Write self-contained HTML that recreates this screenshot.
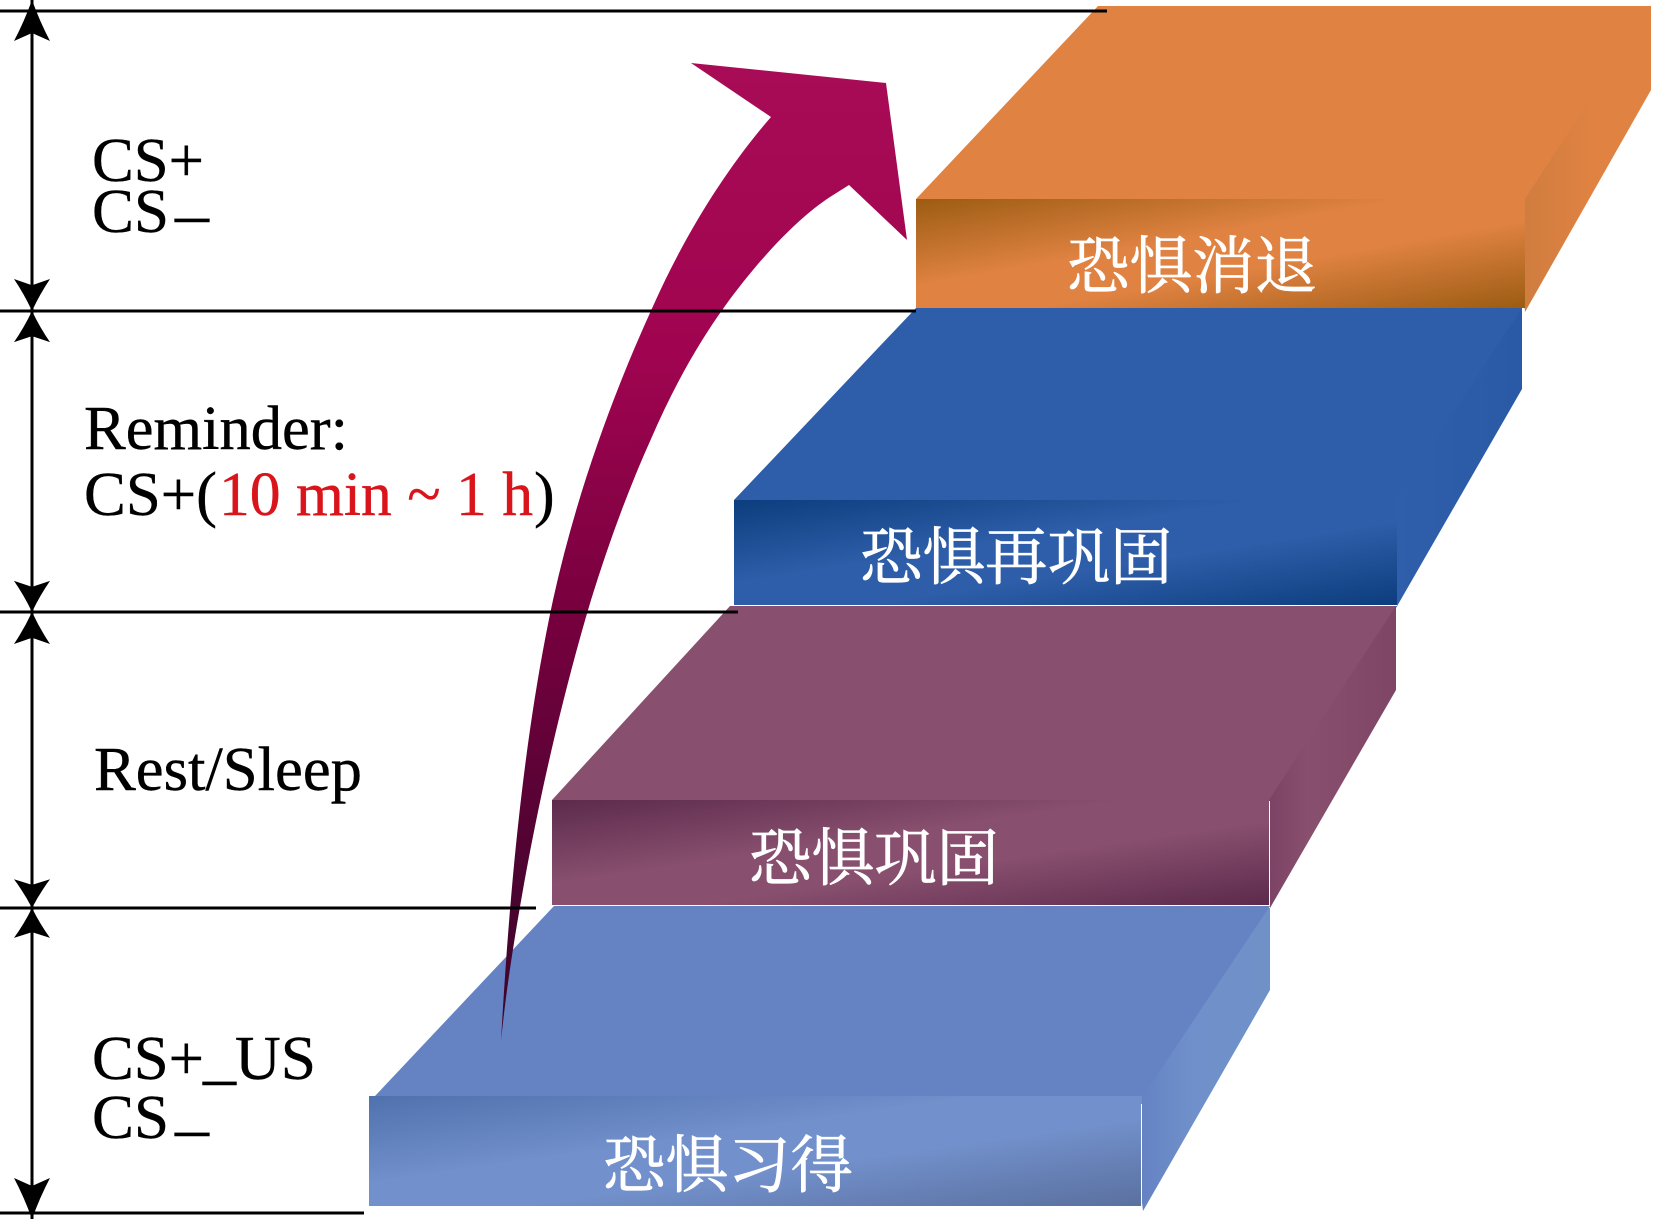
<!DOCTYPE html>
<html><head><meta charset="utf-8"><style>html,body{margin:0;padding:0;background:#fff}svg{display:block}</style></head><body>
<svg width="1654" height="1219" viewBox="0 0 1654 1219" xmlns="http://www.w3.org/2000/svg">
<defs>
<linearGradient id="arr" gradientUnits="userSpaceOnUse" x1="0" y1="60" x2="0" y2="1041"><stop offset="0" stop-color="#a90c56"/><stop offset=".3" stop-color="#a00450"/><stop offset=".56" stop-color="#78003f"/><stop offset=".85" stop-color="#4a0430"/><stop offset="1" stop-color="#3f0428"/></linearGradient>
<linearGradient id="so" gradientUnits="userSpaceOnUse" x1="1525" y1="0" x2="1590" y2="0"><stop offset="0" stop-color="#d07d40"/><stop offset="1" stop-color="#df8242"/></linearGradient>
<linearGradient id="sb" gradientUnits="userSpaceOnUse" x1="1396" y1="0" x2="1522" y2="0"><stop offset="0" stop-color="#2f5fab"/><stop offset="1" stop-color="#2a5aa6"/></linearGradient>
<linearGradient id="sp" gradientUnits="userSpaceOnUse" x1="1270" y1="0" x2="1396" y2="0"><stop offset="0" stop-color="#7d4365"/><stop offset=".3" stop-color="#884f6e"/><stop offset="1" stop-color="#7f4565"/></linearGradient>
<linearGradient id="sl" gradientUnits="userSpaceOnUse" x1="1143" y1="0" x2="1270" y2="0"><stop offset="0" stop-color="#6583c3"/><stop offset=".4" stop-color="#7090cb"/><stop offset="1" stop-color="#7090c8"/></linearGradient>
<path id="ah" d="M0,0 Q8,22 18,41 L0,33 L-18,41 Q-8,22 0,0 Z"/>
</defs>
<style>
.o{fill:#df8242}.b{fill:#2e5ea9}.p{fill:#884f6e}.l{fill:#6583c3}
.e{font-family:"Liberation Serif",serif;font-size:62px;fill:#000;stroke:#000;stroke-width:.4}
.r{font-family:"Liberation Serif",serif;font-size:62px;fill:#d9141b;stroke:#d9141b;stroke-width:.4}
.c{font-family:"Liberation Serif","Noto Serif CJK SC",serif;font-size:62.5px;fill:#fff;stroke:#fff;stroke-width:.7}
</style>
<!-- Light-blue block -->
<polygon fill="url(#sl)" points="1130,1100 1255,908 1270,908 1270,990 1143,1211"/>
<polygon class="l" points="375,1096 554,906 1270,906 1143,1096"/>
<foreignObject x="369" y="1096" width="773" height="110"><div xmlns="http://www.w3.org/1999/xhtml" style="width:773px;height:110px;background:linear-gradient(to bottom right,#4f71ad 0,#7290cb 40%,#7290cb 60%,#5a709f 100%)"></div></foreignObject>
<rect x="1141" y="1104" width="1" height="102" fill="#fff"/>
<!-- Plum block -->
<polygon fill="url(#sp)" points="1260,803 1385,606 1396,606 1396,690 1270,908"/>
<polygon class="p" points="552,800 730,606 1396,606 1269,800"/>
<foreignObject x="552" y="800" width="717" height="105"><div xmlns="http://www.w3.org/1999/xhtml" style="width:717px;height:105px;background:linear-gradient(to bottom right,#5c2a4c 0,#884f6e 40%,#884f6e 60%,#5c2a4c 100%)"></div></foreignObject>
<rect x="552" y="905" width="718" height="1" fill="#fff"/><rect x="1269" y="801" width="1" height="105" fill="#fff"/>
<!-- Blue block -->
<polygon fill="url(#sb)" points="1385,500 1510,308 1522,308 1522,389 1396,608"/>
<polygon class="b" points="734,500 916,308 1522,308 1396,500"/>
<foreignObject x="734" y="500" width="663" height="105"><div xmlns="http://www.w3.org/1999/xhtml" style="width:663px;height:105px;background:linear-gradient(to bottom right,#0c3d7d 0,#2e5ea9 40%,#2e5ea9 60%,#0c3d7d 100%)"></div></foreignObject>
<rect x="734" y="605" width="663" height="1" fill="#fff"/>
<!-- Orange block -->
<polygon fill="url(#so)" points="1515,200 1640,6 1651,6 1651,90 1525,312"/>
<polygon class="o" points="916,199 1098,6 1651,6 1525,199"/>
<foreignObject x="916" y="199" width="609" height="109"><div xmlns="http://www.w3.org/1999/xhtml" style="width:609px;height:109px;background:linear-gradient(to bottom right,#9c5c12 0,#df8242 40%,#df8242 60%,#9c5c12 100%)"></div></foreignObject>
<!-- CJK labels -->
<text class="c" x="1067" y="288">恐惧消退</text>
<text class="c" x="860" y="579">恐惧再巩固</text>
<text class="c" x="749" y="880">恐惧巩固</text>
<text class="c" x="603" y="1187">恐惧习得</text>
<!-- Big arrow -->
<path fill="url(#arr)" d="M501,1041 C510,880 525,730 553,600 C575,500 610,400 654,304 C685,235 725,170 771,117 L691,63 L886,83 L907,240 L849,185 L830,197 C795,220 757,262 725,306 C697,345 672,390 651,439 C628,490 608,545 591,600 C570,670 552,745 540,802 C532,840 510,950 501,1041 Z"/>
<!-- Lines -->
<g fill="#000">
<rect x="0" y="9.5" width="1107" height="3"/>
<rect x="0" y="309.5" width="916" height="3"/>
<rect x="0" y="610.5" width="738" height="3"/>
<rect x="0" y="906.5" width="536" height="3"/>
<rect x="0" y="1211.5" width="364" height="3"/>
<rect x="30.5" y="0" width="3" height="1219"/>
<use href="#ah" transform="translate(32,0)"/>
<use href="#ah" transform="translate(32,311) scale(1,-.78)"/>
<use href="#ah" transform="translate(32,311) scale(1,.76)"/>
<use href="#ah" transform="translate(32,612) scale(1,-.76)"/>
<use href="#ah" transform="translate(32,612) scale(1,.78)"/>
<use href="#ah" transform="translate(32,908) scale(1,-.7)"/>
<use href="#ah" transform="translate(32,908) scale(1,.73)"/>
<use href="#ah" transform="translate(32,1219) scale(1,-1)"/>
</g>
<!-- English labels -->
<text class="e" x="92" y="181" textLength="112" lengthAdjust="spacingAndGlyphs">CS+</text>
<text class="e" x="92" y="232" textLength="77" lengthAdjust="spacingAndGlyphs">CS</text>
<text class="e" x="175" y="235" textLength="34" lengthAdjust="spacingAndGlyphs">–</text>
<text class="e" x="84" y="449" textLength="264" lengthAdjust="spacingAndGlyphs">Reminder:</text>
<text class="e" x="84" y="515" textLength="133" lengthAdjust="spacingAndGlyphs">CS+(</text>
<text class="r" x="219" y="515" textLength="314" lengthAdjust="spacingAndGlyphs">10 min ~ 1 h</text>
<text class="e" x="534" y="515">)</text>
<text class="e" x="94" y="790" textLength="268" lengthAdjust="spacingAndGlyphs">Rest/Sleep</text>
<text class="e" x="92" y="1079" textLength="112" lengthAdjust="spacingAndGlyphs">CS+</text>
<text class="e" x="203" y="1077" textLength="33" lengthAdjust="spacingAndGlyphs">_</text>
<text class="e" x="235" y="1079" textLength="81" lengthAdjust="spacingAndGlyphs">US</text>
<text class="e" x="92" y="1138" textLength="77" lengthAdjust="spacingAndGlyphs">CS</text>
<text class="e" x="175" y="1149" textLength="34" lengthAdjust="spacingAndGlyphs">–</text>
</svg>
</body></html>
